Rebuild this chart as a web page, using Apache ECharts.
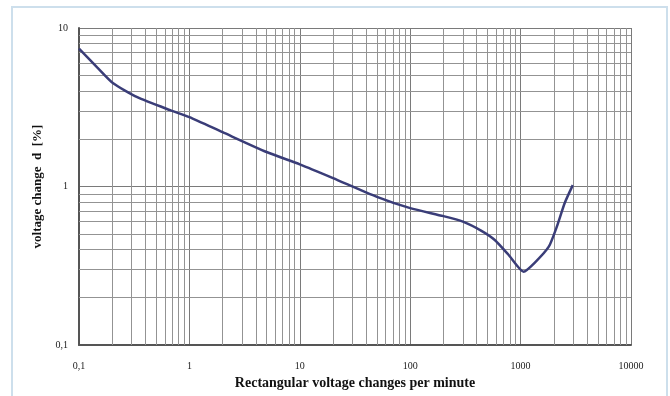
<!DOCTYPE html>
<html><head><meta charset="utf-8">
<script src="https://cdn.jsdelivr.net/npm/echarts@6/dist/echarts.min.js"></script>
<style>html,body{margin:0;padding:0;background:#fff}#c{width:670px;height:396px}</style>
</head><body><div id="c"></div>
<script>
var rateValues = [0.1, 0.146, 0.204, 0.337, 0.67, 1, 2, 5, 10, 20, 50, 100, 200, 300, 442, 580, 777, 1065, 1340, 1800, 2125, 2510, 2970];
var dValues    = [7.4, 5.65, 4.48, 3.66, 3.03, 2.74, 2.2, 1.65, 1.38, 1.13, 0.86, 0.73, 0.65, 0.6, 0.525, 0.461, 0.371, 0.29, 0.33, 0.417, 0.556, 0.787, 1.02];
var xMinorGrid = [0.2,0.3,0.4,0.5,0.6,0.7,0.8,0.9,2,3,4,5,6,7,8,9,20,30,40,50,60,70,80,90,200,300,400,500,600,700,800,900,2000,3000,4000,5000,6000,7000,8000,9000];
var yMinorGrid = [0.2,0.3,0.4,0.5,0.6,0.7,0.8,0.9,2,3,4,5,6,7,8,9];
var xTitle = 'Rectangular voltage changes per minute';
var yTitle = 'voltage change  d  [%]';

var chart = echarts.init(document.getElementById('c'));
var fmt = function(v){ return String(v).replace('.', ','); };
var gridStyle = {color:'#7a7a7a', width:1, type:'solid'};
var mk = [];
xMinorGrid.forEach(function(v){ mk.push({xAxis:v}); });
yMinorGrid.forEach(function(v){ mk.push({yAxis:v}); });
chart.setOption({
  backgroundColor:'#fff',
  animation:false,
  graphic:[{type:'rect', shape:{x:12,y:7,width:655,height:400}, style:{fill:'none', stroke:'#cddfec', lineWidth:2}, z:-1}],
  grid:{left:79, right:39, top:28, bottom:51},
  xAxis:{type:'log', logBase:10, min:0.1, max:10000,
    name:xTitle, nameLocation:'middle', nameGap:30,
    nameTextStyle:{fontFamily:'Liberation Serif', fontWeight:'bold', fontSize:14, color:'#111'},
    axisLine:{lineStyle:{color:'#555', width:2}}, axisTick:{show:false},
    axisLabel:{formatter:fmt, fontFamily:'Liberation Serif', fontSize:10, color:'#222', margin:16},
    splitLine:{show:true, lineStyle:gridStyle}},
  yAxis:{type:'log', logBase:10, min:0.1, max:10,
    name:yTitle, nameLocation:'middle', nameGap:27, nameRotate:90,
    nameTextStyle:{fontFamily:'Liberation Serif', fontWeight:'bold', fontSize:13, color:'#111'},
    axisLine:{lineStyle:{color:'#555', width:2}}, axisTick:{show:false},
    axisLabel:{formatter:fmt, fontFamily:'Liberation Serif', fontSize:10, color:'#222', margin:11},
    splitLine:{show:true, lineStyle:gridStyle}},
  series:[
    {type:'line', data:rateValues.map(function(x,i){return [x,dValues[i]];}),
     showSymbol:false, smooth:0.2, lineStyle:{color:'#3a3d78', width:2.5}, z:5,
     markLine:{silent:true, symbol:['none','none'], label:{show:false},
       lineStyle:{color:'#939393', width:1, type:'solid'}, data:mk, animation:false}}
  ]
});
</script></body></html>
